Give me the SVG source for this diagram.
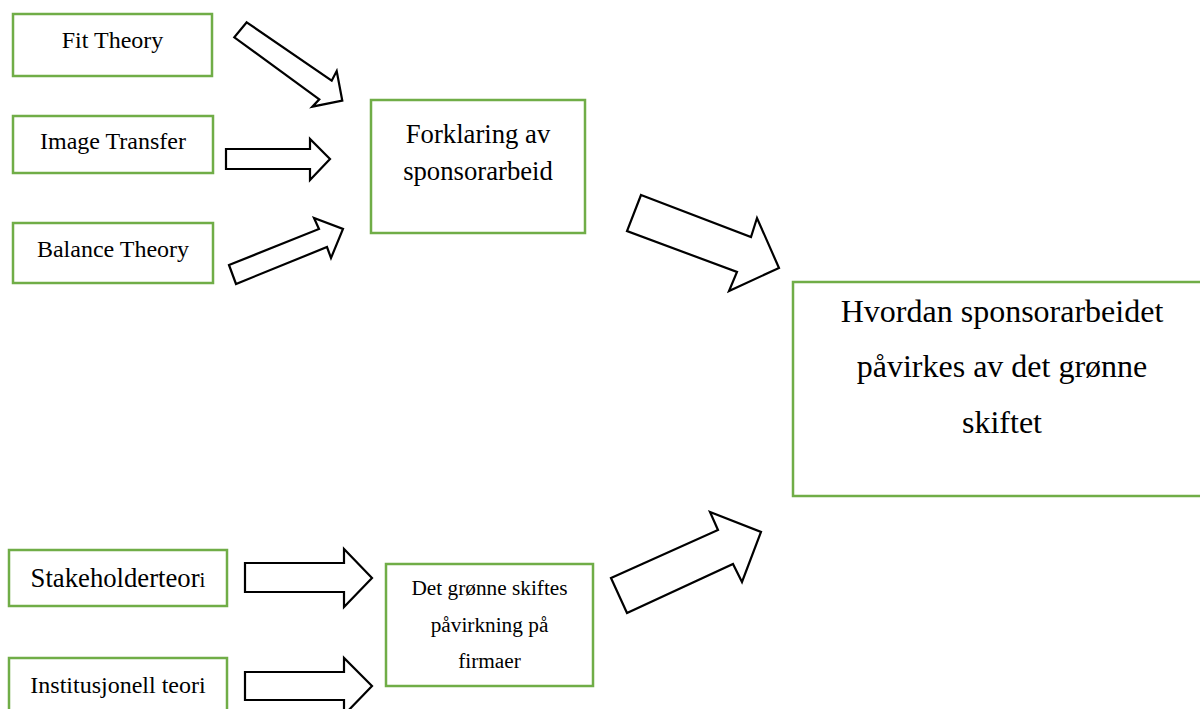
<svg xmlns="http://www.w3.org/2000/svg" width="1200" height="709" viewBox="0 0 1200 709">
<style>
  .box { fill: #ffffff; stroke: #70AD47; stroke-width: 2.5; }
  .arrow { fill: #ffffff; stroke: #000000; stroke-width: 2.2; stroke-linejoin: miter; }
  text { font-family: "Liberation Serif", "Times New Roman", serif; fill: #000000; text-anchor: middle; }
  .s24 { font-size: 24px; }
  .s27 { font-size: 26.7px; }
  .s32 { font-size: 32px; }
  .s21 { font-size: 21.3px; }
</style>
<rect width="1200" height="709" fill="#ffffff"/>

<g id="connectors">
  <polygon class="arrow" points="246.7,22.3 331.7,80.7 336.7,71 342.3,100.7 312.3,106.7 319.3,99.3 234.3,37.3"/>
  <polygon class="arrow" points="226,149 310,149 310,139 330,159 310,180 310,169 226,169"/>
  <polygon class="arrow" points="229,265 319,229 314,218 343,229 331,258 327,247 236,284"/>
  <polygon class="arrow" points="641,195 751,237 757,218 779,268 729,291 737,272 627,231"/>
  <polygon class="arrow" points="611,578 718,530 710,512 761,532 742,582 733,564 627,613"/>
  <polygon class="arrow" points="245,563 344,563 344,549 372,578 344,607 344,592 245,592"/>
  <polygon class="arrow" points="245,672 344,672 344,658 372,686 344,715 344,700 245,700"/>
</g>

<g id="fit-theory">
  <rect class="box" x="13" y="14" width="199" height="62"/>
  <text class="s24" x="112.5" y="48">Fit Theory</text>
</g>
<g id="image-transfer">
  <rect class="box" x="13" y="116" width="200" height="57"/>
  <text class="s24" x="113" y="149">Image Transfer</text>
</g>
<g id="balance-theory">
  <rect class="box" x="13" y="223" width="200" height="60"/>
  <text class="s24" x="113" y="257">Balance Theory</text>
</g>
<g id="forklaring">
  <rect class="box" x="371" y="100" width="214" height="133"/>
  <text class="s27" x="478" y="143">Forklaring av</text>
  <text class="s27" x="478" y="180">sponsorarbeid</text>
</g>
<g id="hvordan">
  <rect class="box" x="793" y="282" width="418" height="214"/>
  <text class="s32" x="1002" y="322">Hvordan sponsorarbeidet</text>
  <text class="s32" x="1002" y="377">påvirkes av det grønne</text>
  <text class="s32" x="1002" y="433">skiftet</text>
</g>
<g id="stakeholderteori">
  <rect class="box" x="9" y="550" width="218" height="56"/>
  <text class="s27" x="118" y="587">Stakeholderteor<tspan font-size="21px">i</tspan></text>
</g>
<g id="institusjonell">
  <rect class="box" x="9" y="658" width="218" height="70"/>
  <text class="s24" x="118" y="693">Institusjonell teori</text>
</g>
<g id="det-gronne">
  <rect class="box" x="386" y="564" width="207" height="122"/>
  <text class="s21" x="489.5" y="595">Det grønne skiftes</text>
  <text class="s21" x="489.5" y="632">påvirkning på</text>
  <text class="s21" x="489.5" y="668">firmaer</text>
</g>
</svg>
